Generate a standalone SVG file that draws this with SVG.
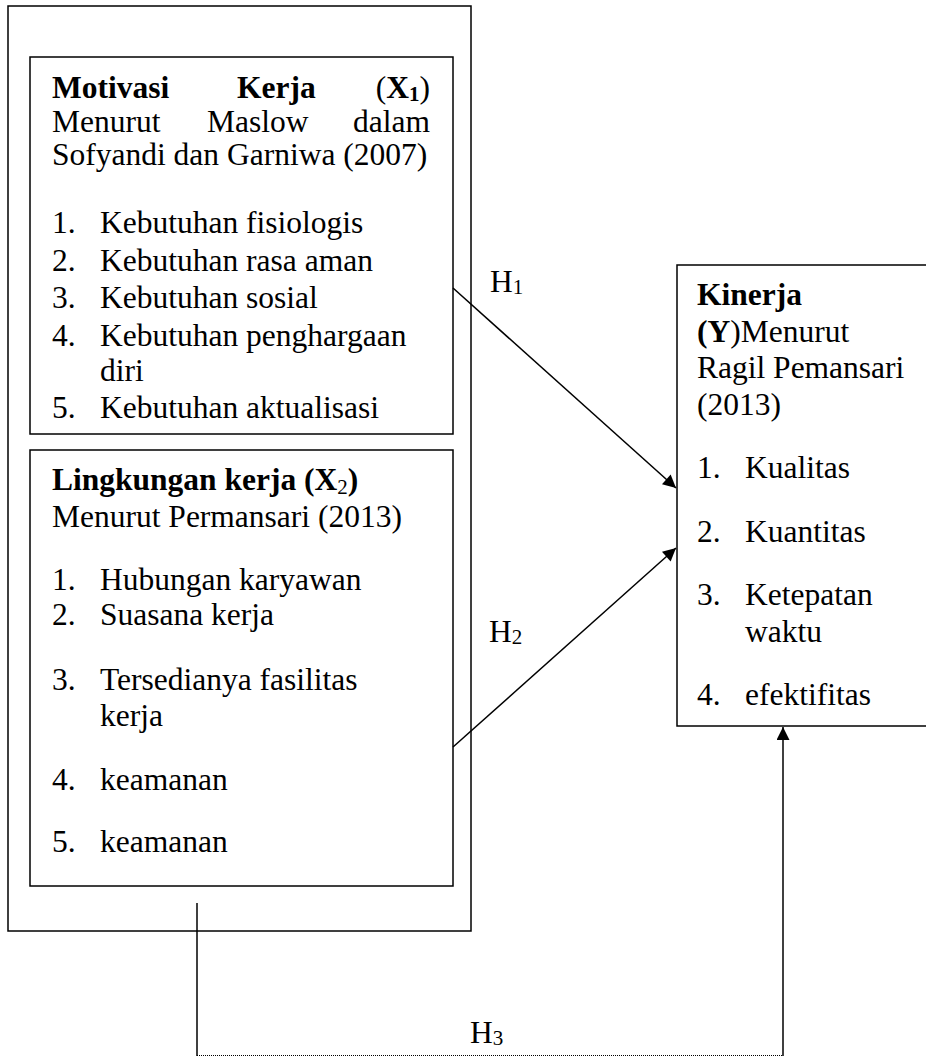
<svg xmlns="http://www.w3.org/2000/svg" width="926" height="1059" viewBox="0 0 926 1059">
<style>
.t{font-family:"Liberation Serif","Times New Roman",serif;font-size:31.5px;fill:#000}
.b{font-weight:bold}
.box{fill:none;stroke:#000;stroke-width:1.5}
.wbox{fill:#fff;stroke:#000;stroke-width:1.5}
.con{fill:none;stroke:#000;stroke-width:1.5}
.dot{fill:none;stroke:#000;stroke-width:1.2;stroke-dasharray:1 1}
</style>
<defs>
<marker id="ah" viewBox="0 0 10 10" refX="10" refY="5" markerWidth="18" markerHeight="13" markerUnits="userSpaceOnUse" orient="auto"><path d="M0,0 L10,5 L0,10 z" fill="#000"/></marker>
</defs>
<rect width="926" height="1059" fill="#fff"/>

<g id="outer">
<rect class="box" x="8" y="6" width="463" height="925"/>
</g>

<g id="x1">
<rect class="box" x="30" y="57" width="423" height="377"/>
<text class="t b" x="52" y="98">Motivasi</text>
<text class="t b" x="237" y="98">Kerja</text>
<text class="t" x="430" y="98" text-anchor="end">(<tspan class="b">X<tspan font-size="21" dy="3">1</tspan></tspan><tspan dy="-3">)</tspan></text>
<text class="t" x="52" y="132">Menurut</text>
<text class="t" x="207" y="132">Maslow</text>
<text class="t" x="430" y="132" text-anchor="end">dalam</text>
<text class="t" x="52" y="165">Sofyandi dan Garniwa (2007)</text>
<text class="t" x="52" y="233">1.</text><text class="t" x="100" y="233">Kebutuhan fisiologis</text>
<text class="t" x="52" y="271">2.</text><text class="t" x="100" y="271">Kebutuhan rasa aman</text>
<text class="t" x="52" y="308">3.</text><text class="t" x="100" y="308">Kebutuhan sosial</text>
<text class="t" x="52" y="346">4.</text><text class="t" x="100" y="346">Kebutuhan penghargaan</text>
<text class="t" x="100" y="381">diri</text>
<text class="t" x="52" y="418">5.</text><text class="t" x="100" y="418">Kebutuhan aktualisasi</text>
</g>

<g id="x2">
<rect class="box" x="30" y="450" width="423" height="436"/>
<text class="t b" x="52" y="490">Lingkungan kerja (X<tspan font-size="21" dy="4" font-weight="normal">2</tspan><tspan dy="-4">)</tspan></text>
<text class="t" x="52" y="527">Menurut Permansari (2013)</text>
<text class="t" x="52" y="590">1.</text><text class="t" x="100" y="590">Hubungan karyawan</text>
<text class="t" x="52" y="625">2.</text><text class="t" x="100" y="625">Suasana kerja</text>
<text class="t" x="52" y="690">3.</text><text class="t" x="100" y="690">Tersedianya fasilitas</text>
<text class="t" x="100" y="726">kerja</text>
<text class="t" x="52" y="790">4.</text><text class="t" x="100" y="790">keamanan</text>
<text class="t" x="52" y="852">5.</text><text class="t" x="100" y="852">keamanan</text>
</g>

<g id="y">
<rect class="wbox" x="677" y="265" width="262" height="461"/>
<text class="t b" x="697" y="305">Kinerja</text>
<text class="t" x="697" y="342"><tspan class="b">(Y</tspan>)Menurut</text>
<text class="t" x="697" y="378">Ragil Pemansari</text>
<text class="t" x="697" y="415">(2013)</text>
<text class="t" x="697" y="478">1.</text><text class="t" x="745" y="478">Kualitas</text>
<text class="t" x="697" y="542">2.</text><text class="t" x="745" y="542">Kuantitas</text>
<text class="t" x="697" y="605">3.</text><text class="t" x="745" y="605">Ketepatan</text>
<text class="t" x="745" y="642">waktu</text>
<text class="t" x="697" y="705">4.</text><text class="t" x="745" y="705">efektifitas</text>
</g>

<g id="connectors">
<line class="con" x1="453" y1="288" x2="676" y2="488" marker-end="url(#ah)"/>
<line class="con" x1="453" y1="747" x2="676" y2="548" marker-end="url(#ah)"/>
<line class="con" x1="197" y1="903" x2="197" y2="1056"/>
<line class="dot" x1="197" y1="1055.5" x2="783" y2="1055.5"/>
<line class="con" x1="783" y1="1056" x2="783" y2="727" marker-end="url(#ah)"/>
</g>

<g id="labels">
<text class="t" x="490" y="292">H<tspan font-size="21" dy="2">1</tspan></text>
<text class="t" x="489" y="642">H<tspan font-size="21" dy="2">2</tspan></text>
<text class="t" x="470" y="1043">H<tspan font-size="21" dy="2">3</tspan></text>
</g>
</svg>
